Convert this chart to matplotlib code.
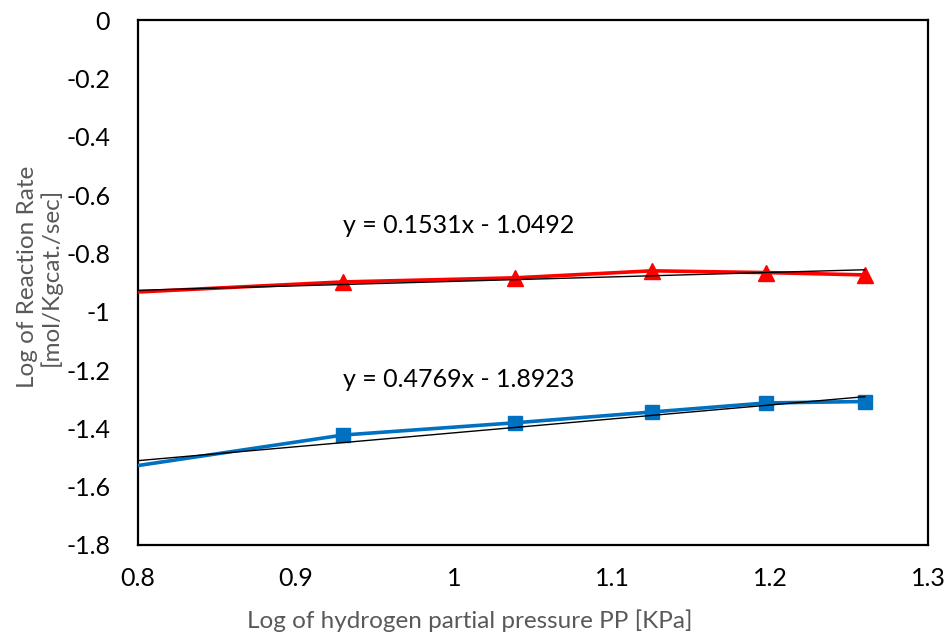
import matplotlib.pyplot as plt
import numpy as np

plt.rcParams['font.family'] = ['Lato', 'DejaVu Sans']

# log of hydrogen partial pressure (first point lies left of the axis window)
log_pp = [0.301, 0.9297, 1.0386, 1.1253, 1.1975, 1.26]
rate_red = [-1.065, -0.898, -0.884, -0.860, -0.866, -0.874]
rate_blue = [-1.93, -1.423, -1.381, -1.344, -1.313, -1.308]

# linear trendlines (slope, intercept) as shown on the chart
fit_red = (0.1531, -1.0492)
fit_blue = (0.4769, -1.8923)

fig = plt.figure(figsize=(9.5, 6.44), dpi=100)
ax = fig.add_axes([138/950, 1-545/644, (928-138)/950, (545-20)/644])

ax.plot(log_pp, rate_red, color='#ff0000', lw=2.6, marker='^', ms=11.5, zorder=3)
ax.plot(log_pp, rate_blue, color='#0070c0', lw=2.6, marker='s', ms=10.5, zorder=3)

xx = np.array([min(log_pp), max(log_pp)])
for slope, icpt in (fit_red, fit_blue):
    ax.plot(xx, slope*xx + icpt, color='black', lw=1.0, zorder=4)

ax.text(0.93, -0.706, 'y = %.4fx - %.4f' % (fit_red[0], -fit_red[1]),
        fontsize=18, va='center', ha='left')
ax.text(0.93, -1.234, 'y = %.4fx - %.4f' % (fit_blue[0], -fit_blue[1]),
        fontsize=18, va='center', ha='left')

ax.set_xlim(0.8, 1.3)
ax.set_ylim(-1.8, 0)
ax.set_xticks(np.arange(0.8, 1.31, 0.1))
ax.set_xticklabels(['0.8', '0.9', '1', '1.1', '1.2', '1.3'])
ax.set_yticks(np.arange(-1.8, 0.01, 0.2))
ax.set_yticklabels(['-1.8', '-1.6', '-1.4', '-1.2', '-1', '-0.8', '-0.6', '-0.4', '-0.2', '0'])
ax.tick_params(length=0, labelsize=18)
ax.tick_params(axis='y', pad=20)
ax.tick_params(axis='x', pad=16)
for s in ax.spines.values():
    s.set_linewidth(1.6)
    s.set_color('black')

ax.set_xlabel('Log of hydrogen partial pressure PP [KPa]', fontsize=17.5,
              color='#595959')
ax.set_ylabel('Log of Reaction Rate\n[mol/Kgcat./sec]', fontsize=17.5,
              color='#595959', linespacing=1.1)
ax.xaxis.set_label_coords(0.42, -0.123)
ax.yaxis.set_label_coords(-0.096, 0.51)

fig.savefig('out.png', dpi=100)
